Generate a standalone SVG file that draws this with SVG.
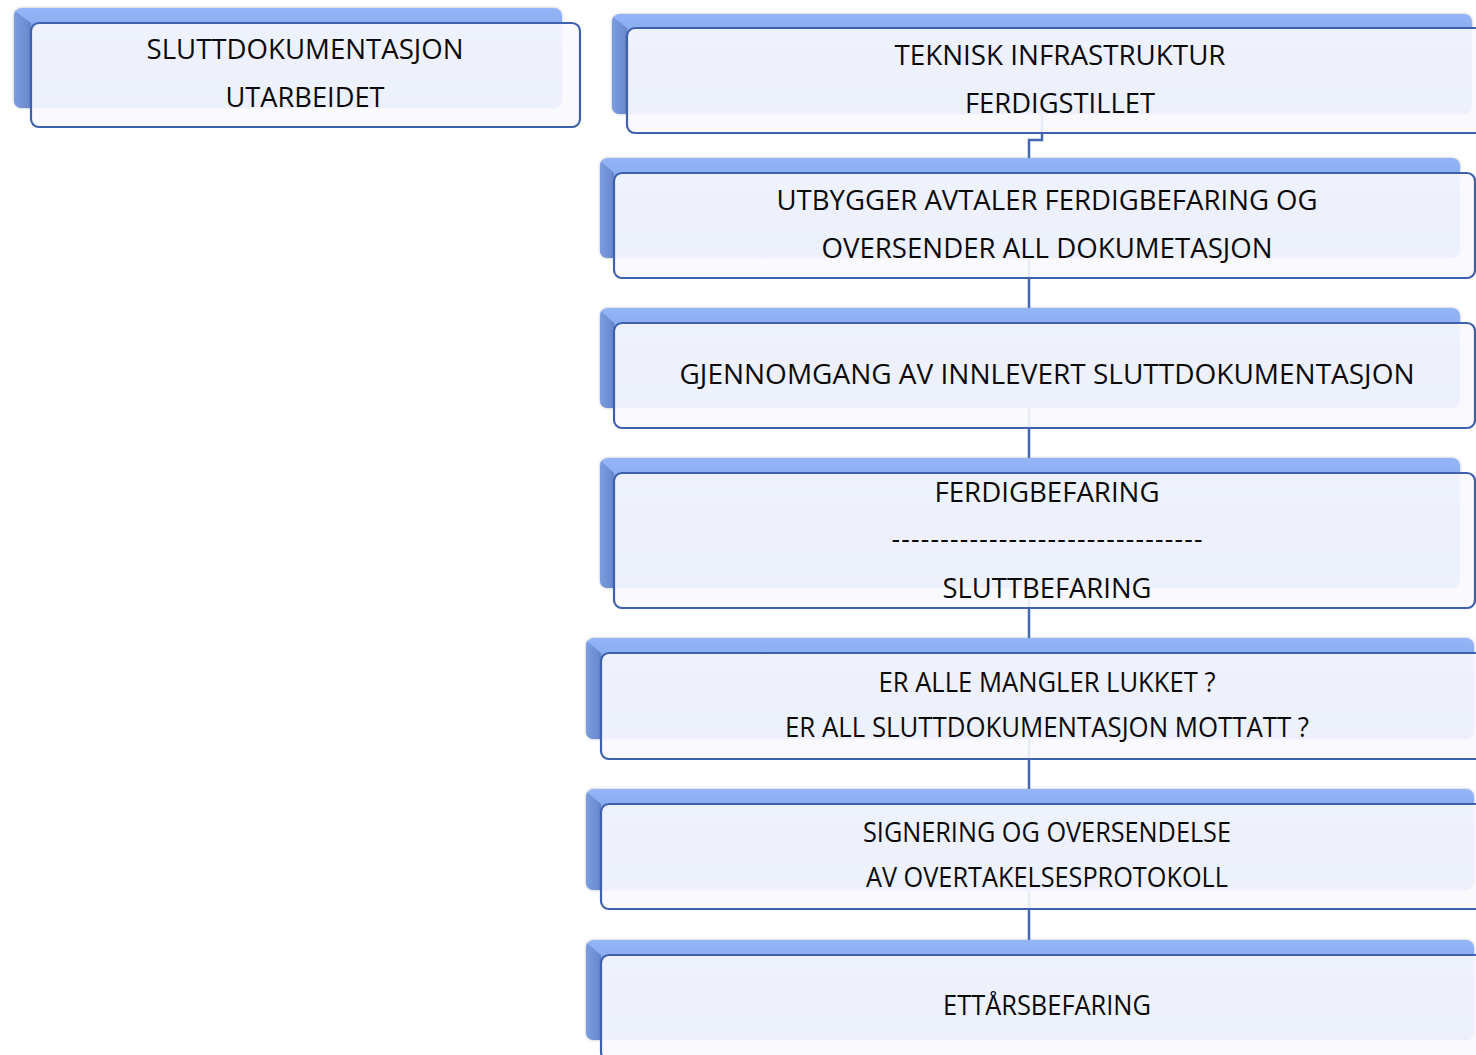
<svg xmlns="http://www.w3.org/2000/svg" width="1476" height="1055" viewBox="0 0 1476 1055">
<defs>
<linearGradient id="gTop" x1="0" y1="0" x2="0" y2="1">
<stop offset="0" stop-color="#94b6f8"/>
<stop offset="0.25" stop-color="#86a9ee"/>
<stop offset="1" stop-color="#7b9de4"/>
</linearGradient>
<linearGradient id="gSide" x1="0" y1="0" x2="1" y2="0">
<stop offset="0" stop-color="#7c9de0"/>
<stop offset="0.8" stop-color="#6c8bd0"/>
<stop offset="1" stop-color="#5f7ec3"/>
</linearGradient>
<filter id="sh" x="-5%" y="-20%" width="110%" height="140%">
<feDropShadow dx="0" dy="0" stdDeviation="1.4" flood-color="#7a8290" flood-opacity="0.55"/>
</filter>
</defs>
<style>
.back{fill:url(#gTop);filter:url(#sh);}
.side{fill:url(#gSide);}
.front{fill:#fafafe;fill-opacity:0.9;stroke:#3d61ad;stroke-width:2.2;}
.t{font-family:"Open Sans","Noto Sans","Liberation Sans",sans-serif;font-size:26.5px;fill:#0a0a0a;text-anchor:middle;}
.c{fill:none;stroke:#4468b2;stroke-width:2.5;}
</style>
<rect width="1476" height="1055" fill="#ffffff"/>
<g id="connectors">
<path class="c" d="M1042,113 V140 H1029 V158"/>
<path class="c" d="M1029,258 V308"/>
<path class="c" d="M1029,408 V458"/>
<path class="c" d="M1029,588 V638"/>
<path class="c" d="M1029,739 V789"/>
<path class="c" d="M1029,890 V940"/>
</g>
<g id="n1">
<rect class="back" x="14" y="8" width="548" height="100" rx="8"/>
<path class="side" d="M15,11 L31,23 L31,108 L22,108 Q14,108 14,100 L14,16 Z"/>
<rect class="front" x="31" y="23" width="549" height="104" rx="8"/>
<text class="t" x="305" y="59" textLength="317" lengthAdjust="spacingAndGlyphs">SLUTTDOKUMENTASJON</text>
<text class="t" x="305" y="107" textLength="159" lengthAdjust="spacingAndGlyphs">UTARBEIDET</text>
</g>
<g id="n2">
<rect class="back" x="612" y="14" width="860" height="100" rx="8"/>
<path class="side" d="M613,17 L627,28 L627,114 L620,114 Q612,114 612,106 L612,22 Z"/>
<rect class="front" x="627" y="28" width="862" height="105" rx="8"/>
<text class="t" x="1060" y="65" textLength="331" lengthAdjust="spacingAndGlyphs">TEKNISK INFRASTRUKTUR</text>
<text class="t" x="1060" y="113" textLength="190" lengthAdjust="spacingAndGlyphs">FERDIGSTILLET</text>
</g>
<g id="n3">
<rect class="back" x="600" y="158" width="860" height="100" rx="8"/>
<path class="side" d="M601,161 L614,173 L614,258 L608,258 Q600,258 600,250 L600,166 Z"/>
<rect class="front" x="614" y="173" width="861" height="105" rx="8"/>
<text class="t" x="1047" y="210" textLength="541" lengthAdjust="spacingAndGlyphs">UTBYGGER AVTALER FERDIGBEFARING OG</text>
<text class="t" x="1047" y="258" textLength="451" lengthAdjust="spacingAndGlyphs">OVERSENDER ALL DOKUMETASJON</text>
</g>
<g id="n4">
<rect class="back" x="600" y="308" width="860" height="100" rx="8"/>
<path class="side" d="M601,311 L614,323 L614,408 L608,408 Q600,408 600,400 L600,316 Z"/>
<rect class="front" x="614" y="323" width="861" height="105" rx="8"/>
<text class="t" x="1047" y="384" textLength="735" lengthAdjust="spacingAndGlyphs">GJENNOMGANG AV INNLEVERT SLUTTDOKUMENTASJON</text>
</g>
<g id="n5">
<rect class="back" x="600" y="458" width="860" height="130" rx="8"/>
<path class="side" d="M601,461 L614,473 L614,588 L608,588 Q600,588 600,580 L600,466 Z"/>
<rect class="front" x="614" y="473" width="861" height="135" rx="8"/>
<text class="t" x="1047" y="502" textLength="225" lengthAdjust="spacingAndGlyphs">FERDIGBEFARING</text>
<text class="t" x="1047" y="548" textLength="311">--------------------------------</text>
<text class="t" x="1047" y="598" textLength="209" lengthAdjust="spacingAndGlyphs">SLUTTBEFARING</text>
</g>
<g id="n6">
<rect class="back" x="586" y="638" width="888" height="101" rx="8"/>
<path class="side" d="M587,641 L601,653 L601,739 L594,739 Q586,739 586,731 L586,646 Z"/>
<rect class="front" x="601" y="653" width="890" height="106" rx="8"/>
<text class="t" x="1047" y="692" textLength="337" lengthAdjust="spacingAndGlyphs">ER ALLE MANGLER LUKKET ?</text>
<text class="t" x="1047" y="737" textLength="524" lengthAdjust="spacingAndGlyphs">ER ALL SLUTTDOKUMENTASJON MOTTATT ?</text>
</g>
<g id="n7">
<rect class="back" x="586" y="789" width="888" height="101" rx="8"/>
<path class="side" d="M587,792 L601,804 L601,890 L594,890 Q586,890 586,882 L586,797 Z"/>
<rect class="front" x="601" y="804" width="890" height="105" rx="8"/>
<text class="t" x="1047" y="842" textLength="368" lengthAdjust="spacingAndGlyphs">SIGNERING OG OVERSENDELSE</text>
<text class="t" x="1047" y="887" textLength="362" lengthAdjust="spacingAndGlyphs">AV OVERTAKELSESPROTOKOLL</text>
</g>
<g id="n8">
<rect class="back" x="586" y="940" width="888" height="100" rx="8"/>
<path class="side" d="M587,943 L601,955 L601,1040 L594,1040 Q586,1040 586,1032 L586,948 Z"/>
<rect class="front" x="601" y="955" width="890" height="105" rx="8"/>
<text class="t" x="1047" y="1015" textLength="208" lengthAdjust="spacingAndGlyphs">ETTÅRSBEFARING</text>
</g>
</svg>
